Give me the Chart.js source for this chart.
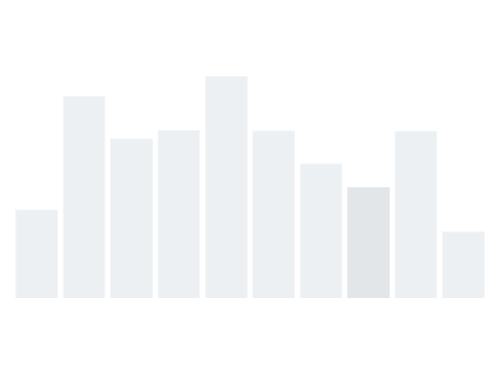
<!DOCTYPE html>
<html>
<head>
<meta charset="utf-8">
<script src="https://cdn.jsdelivr.net/npm/chart.js@4/dist/chart.umd.min.js"></script>
<style>
  html, body { margin: 0; padding: 0; background: #fff; }
  #wrap { width: 500px; height: 375px; position: relative; }
</style>
</head>
<body>
<div id="wrap"><canvas id="barChart"></canvas></div>
<script>
// Chart data
var labels = ['1', '2', '3', '4', '5', '6', '7', '8', '9', '10'];
var values = [40, 91, 72, 75.7, 100, 75.6, 60.7, 50, 75.4, 30.1];
var highlighted = 7; // index of the darker bar

var fillColors = values.map(function (v, i) {
  return i === highlighted ? '#e3e6e8' : '#edf0f3';
});
var edgeColors = values.map(function (v, i) {
  return i === highlighted ? '#eaedef' : '#f3f5f7';
});

var ctx = document.getElementById('barChart').getContext('2d');
var chart = new Chart(ctx, {
  type: 'bar',
  data: {
    labels: labels,
    datasets: [
      {
        data: values,
        backgroundColor: fillColors,
        borderColor: edgeColors,
        borderWidth: 1,
        barPercentage: 0.91,
        categoryPercentage: 1,
      },
    ],
  },
  options: {
    responsive: true,
    maintainAspectRatio: false,
    animation: false,
    layout: { padding: { top: 76, bottom: 77, left: 13, right: 13 } },
    plugins: { legend: { display: false }, tooltip: { enabled: false } },
    scales: {
      x: { display: false },
      y: { display: false, min: 0, max: 100 },
    },
  },
});
</script>
</body>
</html>
